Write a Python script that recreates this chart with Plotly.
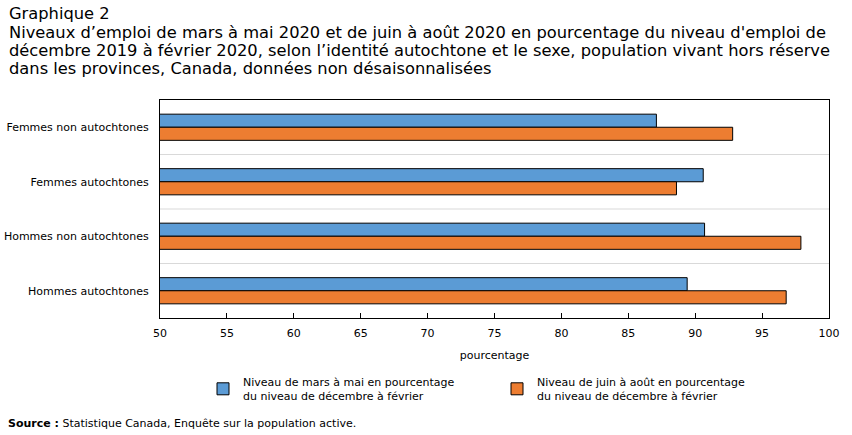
import plotly.graph_objects as go

categories = ["Femmes non autochtones", "Femmes autochtones",
              "Hommes non autochtones", "Hommes autochtones"]
series_names = ["Niveau de mars à mai en pourcentage<br>du niveau de décembre à février",
                "Niveau de juin à août en pourcentage<br>du niveau de décembre à février"]
mars_mai = [87.1, 90.6, 90.7, 89.4]
juin_aout = [92.8, 88.6, 97.9, 96.8]
x_ticks = [50, 55, 60, 65, 70, 75, 80, 85, 90, 95, 100]
title_lines = [
    "Graphique 2",
    "Niveaux d’emploi de mars à mai 2020 et de juin à août 2020 en pourcentage du niveau d'emploi de",
    "décembre 2019 à février 2020, selon l’identité autochtone et le sexe, population vivant hors réserve",
    "dans les provinces, Canada, données non désaisonnalisées",
]
colors = ["#5B9BD5", "#ED7D31"]

FONT = "DejaVu Sans"
W, H = 852, 435
L, R, T, B = 160, 23, 100, 117
PH = H - T - B
PW = W - L - R


def py(p):
    return (H - B - p) / PH


def px(p):
    return (p - L) / PW


fig = go.Figure()
for name, vals, col in zip(series_names, [mars_mai, juin_aout], colors):
    fig.add_trace(go.Bar(
        y=categories, x=vals, orientation="h", name=name,
        marker=dict(color=col, line=dict(color="black", width=1)),
    ))

# separators between categories
for i in range(len(categories) - 1):
    fig.add_shape(type="line", xref="paper", yref="y", x0=0, x1=1,
                  y0=i + 0.5, y1=i + 0.5, line=dict(color="#D9D9D9", width=1),
                  layer="below")

fig.update_layout(
    width=W, height=H,
    paper_bgcolor="white", plot_bgcolor="white",
    font=dict(family=FONT, size=11, color="black"),
    margin=dict(l=L, r=R, t=T, b=B, autoexpand=False),
    barmode="group", bargap=0.52, bargroupgap=0,
    xaxis=dict(range=[50, 100], tickvals=x_ticks, showgrid=False,
               showline=True, linecolor="black", linewidth=1, mirror=True,
               ticks="inside", ticklen=5, tickcolor="black",
               ticklabelstandoff=5, automargin=False,
               title=dict(text="pourcentage", font=dict(size=11), standoff=12),
               zeroline=False),
    yaxis=dict(autorange="reversed", showgrid=False, automargin=False,
               showline=True, linecolor="black", linewidth=1, mirror=True,
               ticks="", ticklabelstandoff=8),
    legend=dict(orientation="h", xref="container", yref="container",
                x=203 / W, xanchor="left", y=1 - 368 / H, yanchor="top",
                font=dict(size=11), entrywidth=249, traceorder="normal",
                itemwidth=30),
    showlegend=True,
)

for i, line in enumerate(title_lines):
    fig.add_annotation(xref="paper", yref="paper", x=px(7), xanchor="left",
                       y=py(14 + 18 * i), yanchor="middle", text=line,
                       showarrow=False, font=dict(size=16.3))

fig.add_annotation(xref="paper", yref="paper", x=px(6), xanchor="left",
                   y=py(423), yanchor="middle",
                   text="<b>Source :</b> Statistique Canada, Enquête sur la population active.",
                   showarrow=False, font=dict(size=11))

fig.write_html("out.html")
